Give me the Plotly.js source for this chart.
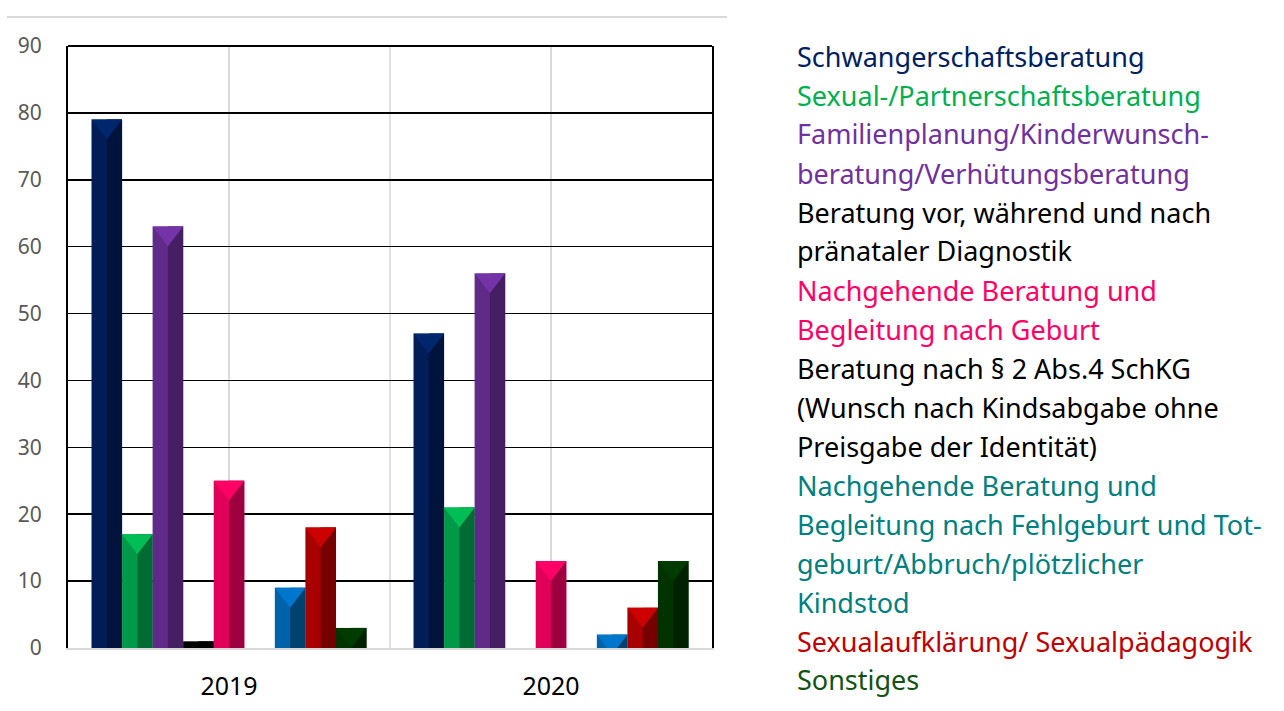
<!DOCTYPE html>
<html>
<head>
<meta charset="utf-8">
<script src="https://cdn.plot.ly/plotly-3.0.1.min.js"></script>
<style>html,body{margin:0;padding:0;background:#fff;}#chart{width:1284px;height:711px;}</style>
</head>
<body>
<div id="chart"></div>
<script>
// ---- data ----
const categories = ['2019', '2020'];
const seriesNames = [
  'Schwangerschaftsberatung',
  'Sexual-/Partnerschaftsberatung',
  'Familienplanung/Kinderwunschberatung/Verhütungsberatung',
  'Beratung vor, während und nach pränataler Diagnostik',
  'Nachgehende Beratung und Begleitung nach Geburt',
  'Beratung nach § 2 Abs.4 SchKG',
  'Nachgehende Beratung und Begleitung nach Fehlgeburt und Totgeburt/Abbruch/plötzlicher Kindstod',
  'Sexualaufklärung/ Sexualpädagogik',
  'Sonstiges'
];
const values2019 = [79, 17, 63, 1, 25, 0, 9, 18, 3];
const values2020 = [47, 21, 56, 0, 13, 0, 2, 6, 13];
const yTicks = [0, 10, 20, 30, 40, 50, 60, 70, 80, 90];
const legendLines = [
  ['Schwangerschaftsberatung'],
  ['Sexual-/Partnerschaftsberatung'],
  ['Familienplanung/Kinderwunsch-', 'beratung/Verhütungsberatung'],
  ['Beratung vor, während und nach', 'pränataler Diagnostik'],
  ['Nachgehende Beratung und', 'Begleitung nach Geburt'],
  ['Beratung nach § 2 Abs.4 SchKG', '(Wunsch nach Kindsabgabe ohne', 'Preisgabe der Identität)'],
  ['Nachgehende Beratung und', 'Begleitung nach Fehlgeburt und Tot-', 'geburt/Abbruch/plötzlicher', 'Kindstod'],
  ['Sexualaufklärung/ Sexualpädagogik'],
  ['Sonstiges']
];

// ---- styles ----
const faceColors = ['#001D57', '#00994A', '#5F2A88', '#000000', '#E0005A', '#000000', '#0062A8', '#A80000', '#003300'];
const sideColors = ['#00133A', '#006B33', '#451E63', '#000000', '#9C003F', '#000000', '#00426F', '#760000', '#002200'];
const topColors  = ['#00266E', '#00BE55', '#7433A6', '#000000', '#FF0066', '#000000', '#0077CC', '#CC0000', '#003C00'];
const textColors = ['#002060', '#00B050', '#7030A0', '#000000', '#FF0066', '#000000', '#008080', '#C00000', '#145214'];

const plotTop = 46, plotBottom = 648, plotH = plotBottom - plotTop;
const plotLeft = 68, plotRight = 712, plotW = plotRight - plotLeft;
const yMax = 90;

const nS = seriesNames.length;
const bargap = 0.146;
const slot = (1 - bargap) / nS;
const slotPx = slot * plotW / 2;
const triSize = slotPx / 1.155;
const triShift = (triSize / 4) / (plotH / yMax);

const traces = [];
for (let i = 0; i < nS; i++) {
  const y = [values2019[i], values2020[i]];
  const off = -(1 - bargap) / 2 + i * slot;
  traces.push({
    type: 'bar', x: categories, y: y, name: seriesNames[i],
    offset: off, width: slot,
    marker: {color: faceColors[i], line: {width: 0}},
    showlegend: false, hoverinfo: 'x+y+name'
  });
  traces.push({
    type: 'bar', x: categories, y: y, name: seriesNames[i],
    offset: off + slot / 2, width: slot / 2,
    marker: {color: sideColors[i], line: {width: 0}},
    showlegend: false, hoverinfo: 'skip'
  });
}
// bevelled top faces
for (let i = 0; i < nS; i++) {
  if (faceColors[i] === '#000000') continue;
  const off = -(1 - bargap) / 2 + i * slot + slot / 2;
  const xs = [], ys = [];
  [values2019[i], values2020[i]].forEach((v, c) => {
    if (v > 0) { xs.push(c + off); ys.push(v); }
  });
  traces.push({
    type: 'scatter', mode: 'markers', x: xs, y: ys, xaxis: 'x2', yaxis: 'y2',
    marker: {symbol: 'triangle-down', size: triSize, color: topColors[i], line: {width: 0}},
    showlegend: false, hoverinfo: 'skip', cliponaxis: true
  });
}

// legend as coloured text lines on the right
const annotations = [];
let lineIdx = 0;
const firstLineY = 56, lineStep = 39;
for (let i = 0; i < nS; i++) {
  legendLines[i].forEach(t => {
    const ypx = firstLineY + lineIdx * lineStep;
    annotations.push({
      text: t, xref: 'paper', yref: 'paper',
      x: (795 - plotLeft) / plotW, y: (plotBottom - ypx) / plotH,
      xanchor: 'left', yanchor: 'middle', showarrow: false,
      font: {family: 'Noto Sans, Open Sans, sans-serif', size: 27, color: textColors[i]}
    });
    lineIdx++;
  });
}

const layout = {
  width: 1284, height: 711,
  margin: {l: plotLeft, r: 1284 - plotRight, t: plotTop, b: 711 - plotBottom, pad: 0},
  paper_bgcolor: '#ffffff', plot_bgcolor: '#ffffff',
  barmode: 'overlay', bargap: bargap,
  font: {family: 'Noto Sans, Open Sans, sans-serif'},
  xaxis: {
    type: 'category', categoryarray: categories, range: [-0.5, 1.5],
    showgrid: true, gridcolor: '#d9d9d9', gridwidth: 1.5,
    showline: true, linecolor: '#d9d9d9', linewidth: 2,
    ticks: 'outside', ticklen: 15, tickcolor: 'rgba(0,0,0,0)',
    tickfont: {size: 25, color: '#000000'}, fixedrange: true
  },
  xaxis2: {overlaying: 'x', type: 'linear', range: [-0.5, 1.5], visible: false, fixedrange: true},
  yaxis: {
    range: [0, yMax], tickvals: yTicks, ticktext: yTicks.map(String),
    showgrid: true, gridcolor: '#000000', gridwidth: 1.5,
    zeroline: false,
    showline: true, linecolor: '#000000', linewidth: 2, mirror: true,
    ticks: '', ticklabelstandoff: 20,
    tickfont: {size: 21, color: '#595959'}, fixedrange: true
  },
  yaxis2: {overlaying: 'y', range: [triShift, yMax + triShift], visible: false, fixedrange: true},
  shapes: [
    {type: 'line', xref: 'x', yref: 'paper', x0: 0.5, x1: 0.5, y0: 0, y1: 1,
     line: {color: '#d9d9d9', width: 1.5}, layer: 'below'},
    {type: 'line', xref: 'paper', yref: 'paper', x0: 0, x1: 1, y0: 1, y1: 1,
     line: {color: '#000000', width: 2}},
    {type: 'line', xref: 'paper', yref: 'paper',
     x0: (7 - plotLeft) / plotW, x1: (727 - plotLeft) / plotW,
     y0: (plotBottom - 17) / plotH, y1: (plotBottom - 17) / plotH,
     line: {color: '#d9d9d9', width: 2}}
  ],
  annotations: annotations
};

Plotly.newPlot('chart', traces, layout, {displayModeBar: false, staticPlot: true});
</script>
</body>
</html>
